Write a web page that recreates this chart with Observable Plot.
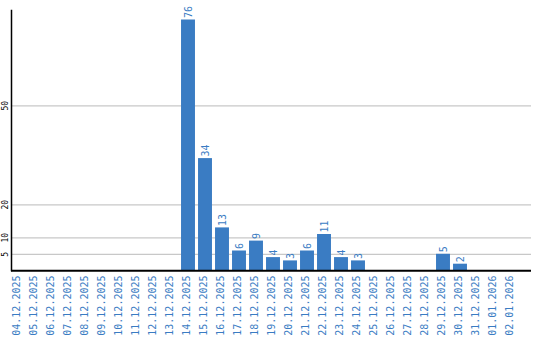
<!DOCTYPE html>
<html>
<head>
<meta charset="utf-8">
<script src="https://cdn.jsdelivr.net/npm/d3@7"></script>
<script src="https://cdn.jsdelivr.net/npm/@observablehq/plot@0.6"></script>
<style>
  html, body { margin: 0; padding: 0; background: #fff; }
  svg { display: block; }
</style>
</head>
<body>
<div id="chart"></div>
<script>
const dates = ["04.12.2025","05.12.2025","06.12.2025","07.12.2025","08.12.2025","09.12.2025","10.12.2025","11.12.2025","12.12.2025","13.12.2025","14.12.2025","15.12.2025","16.12.2025","17.12.2025","18.12.2025","19.12.2025","20.12.2025","21.12.2025","22.12.2025","23.12.2025","24.12.2025","25.12.2025","26.12.2025","27.12.2025","28.12.2025","29.12.2025","30.12.2025","31.12.2025","01.01.2026","02.01.2026"];
const counts = [0,0,0,0,0,0,0,0,0,0,76,34,13,6,9,4,3,6,11,4,3,0,0,0,0,5,2,0,0,0];
const yTicks = [5,10,20,50];

const data = dates.map((d, i) => ({date: d, value: counts[i]}));
const nonZero = data.filter(d => d.value > 0);
const blue = "#3a7cc3";
const mono = "DejaVu Sans Mono";

const chart = Plot.plot({
  width: 540,
  height: 340,
  marginTop: 10,
  marginLeft: 11,
  marginRight: 9,
  marginBottom: 70,
  style: {fontFamily: mono, background: "#fff"},
  x: {type: "band", domain: dates, range: [9.5, 519.5], paddingInner: 0.18, paddingOuter: 0.09, round: false, label: null},
  y: {domain: [0, 76], range: [270.3, 19.5], label: null},
  marks: [
    Plot.ruleY(yTicks, {stroke: "#c8c8c8", strokeWidth: 1.2}),
    Plot.barY(nonZero, {x: "date", y: "value", fill: blue}),
    Plot.text(nonZero, {x: "date", y: "value", text: d => String(d.value), rotate: -90, textAnchor: "start", dy: -2, fill: blue, fontSize: 10, fontFamily: mono}),
    Plot.axisX({tickRotate: -90, tickSize: 0, tickPadding: 5, fill: blue, fontSize: 10, fontFamily: mono, dx: -1.5, label: null}),
    Plot.axisY({ticks: yTicks, tickRotate: -90, tickSize: 0, tickPadding: 4, fill: "#000", fontSize: 8, fontFamily: mono, tickFormat: d => String(d), label: null}),
    Plot.ruleY([0], {stroke: "#000", strokeWidth: 2}),
    Plot.frame({anchor: "left", stroke: "#000", strokeWidth: 1.5})
  ]
});
document.getElementById("chart").appendChild(chart);
</script>
</body>
</html>
